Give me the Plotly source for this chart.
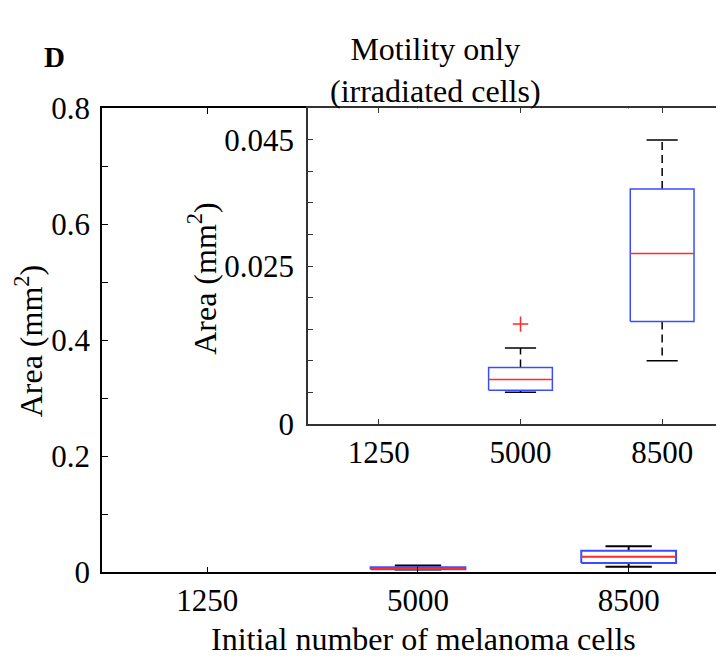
import plotly.graph_objects as go

# ---------------- data ----------------
categories = ["1250", "5000", "8500"]
positions = [1, 2, 3]
q1 = [None, 0.0053, 0.0162]
median = [None, 0.0070, 0.0270]
q3 = [None, 0.0089, 0.0372]
lower_whisker = [None, 0.0050, 0.0100]
upper_whisker = [None, 0.0120, 0.0450]
outlier_pos = [2]
outlier_val = [0.0158]

main_yticks = [0, 0.2, 0.4, 0.6, 0.8]
main_yticktext = ["0", "0.2", "0.4", "0.6", "0.8"]
inset_yticks = [0, 0.025, 0.045]
inset_yticktext = ["0", "0.025", "0.045"]

W, H = 724, 662
FONT = "Liberation Serif"
BLUE = "#3a4cff"
RED = "#ff2a2a"

fig = go.Figure()


def add_boxes(xa, ya, lw, show_outliers):
    hw = 0.225   # box half width
    cw = 0.11    # cap half width
    for p, a, m, b, lo, hi in zip(positions, q1, median, q3, lower_whisker, upper_whisker):
        if a is None:
            continue
        # whiskers (dashed)
        fig.add_trace(go.Scatter(x=[p, p, None, p, p], y=[b, hi, None, a, lo], mode="lines",
                                 line=dict(color="black", width=lw, dash="8px,5px"),
                                 xaxis=xa, yaxis=ya, showlegend=False, hoverinfo="skip"))
        # caps
        fig.add_trace(go.Scatter(x=[p - cw, p + cw, None, p - cw, p + cw], y=[hi, hi, None, lo, lo],
                                 mode="lines", line=dict(color="black", width=lw),
                                 xaxis=xa, yaxis=ya, showlegend=False, hoverinfo="skip"))
        # box
        fig.add_trace(go.Scatter(x=[p - hw, p + hw, p + hw, p - hw, p - hw], y=[a, a, b, b, a],
                                 mode="lines", line=dict(color=BLUE, width=lw),
                                 xaxis=xa, yaxis=ya, showlegend=False, hoverinfo="skip"))
        # median
        fig.add_trace(go.Scatter(x=[p - hw, p + hw], y=[m, m], mode="lines",
                                 line=dict(color=RED, width=lw),
                                 xaxis=xa, yaxis=ya, showlegend=False, hoverinfo="skip"))
    if show_outliers:
        fig.add_trace(go.Scatter(x=outlier_pos, y=outlier_val, mode="markers",
                                 marker=dict(symbol="cross-thin", size=11, line=dict(color=RED, width=1.5)),
                                 xaxis=xa, yaxis=ya, showlegend=False, hoverinfo="skip"))


add_boxes("x", "y", 2, False)
add_boxes("x2", "y2", 1.5, True)


def fx(px):
    return px / W


def fy(py):
    return (H - py) / H


tickfont = dict(family=FONT, size=31, color="black")

main_left, main_bottom, top = 94, 578, 88
inset_left, inset_bottom = 300, 421
main_ppu = 212.0
inset_ppu = 143.0

fig.update_layout(
    width=W, height=H,
    margin=dict(l=0, r=0, t=0, b=0),
    paper_bgcolor="white", plot_bgcolor="white",
    showlegend=False,
    xaxis=dict(domain=[fx(main_left), 1], range=[0.5, 0.5 + (W + 4 - main_left) / main_ppu],
               tickvals=positions, ticktext=categories, ticks="inside", ticklen=6,
               tickcolor="black", showline=True, linecolor="black", linewidth=1.5,
               mirror="ticks", showgrid=False, zeroline=False, tickfont=tickfont,
               fixedrange=True, anchor="y"),
    yaxis=dict(domain=[fy(main_bottom), fy(top)], range=[0, 0.8],
               tickvals=main_yticks, ticktext=main_yticktext, ticks="inside", ticklen=6,
               tickcolor="black", showline=True, linecolor="black", linewidth=1.5,
               mirror=False, showgrid=False, zeroline=False, tickfont=tickfont,
               ticklabelstandoff=4,
               minor=dict(tick0=0, dtick=0.1, ticks="inside", ticklen=6, tickcolor="black"),
               fixedrange=True, anchor="x"),
    xaxis2=dict(domain=[fx(inset_left), 1], range=[0.5, 0.5 + (W + 4 - inset_left) / inset_ppu],
                tickvals=positions, ticktext=categories, ticks="inside", ticklen=5,
                tickcolor="#333", showline=True, linecolor="#333", linewidth=1.5,
                mirror="ticks", showgrid=False, zeroline=False, tickfont=tickfont,
                fixedrange=True, anchor="y2"),
    yaxis2=dict(domain=[fy(inset_bottom), fy(top)], range=[0, 0.05],
                tickvals=inset_yticks, ticktext=inset_yticktext, ticks="inside", ticklen=5,
                tickcolor="#333", showline=True, linecolor="#333", linewidth=1.5,
                mirror=False, showgrid=False, zeroline=False, tickfont=tickfont,
                ticklabelstandoff=6,
                minor=dict(tick0=0, dtick=0.005, ticks="inside", ticklen=5, tickcolor="#333"),
                fixedrange=True, anchor="x2"),
)

labfont = dict(family=FONT, size=32, color="black")
annotations = [
    dict(text="<b>D</b>", x=fx(46), y=fy(34), font=dict(family=FONT, size=29, color="black")),
    dict(text="Motility only<br>(irradiated cells)", x=fx(427), y=fy(48), font=labfont),
    dict(text="Area (mm<sup>2</sup>)", x=fx(21), y=fy(334), textangle=-90, font=labfont),
    dict(text="Area (mm<sup>2</sup>)", x=fx(194), y=fy(268), textangle=-90, font=labfont),
    dict(text="Initial number of melanoma cells", x=fx(415), y=fy(648), font=labfont),
]
for a in annotations:
    a.update(xref="paper", yref="paper", showarrow=False, xanchor="center", yanchor="middle")
fig.update_layout(annotations=annotations)

fig.write_html("out.html")
